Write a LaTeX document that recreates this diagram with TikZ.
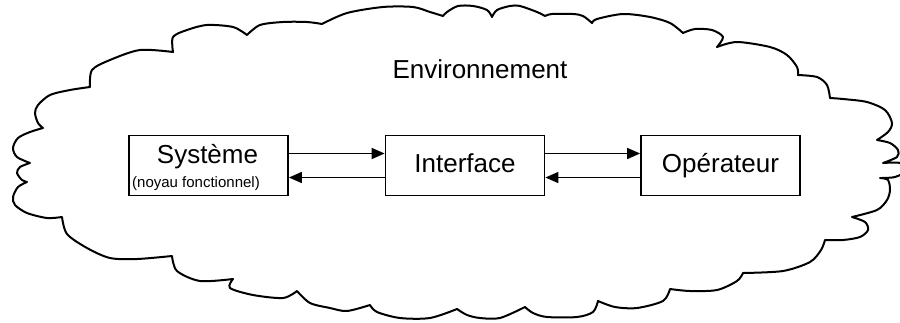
\documentclass[tikz,border=0pt]{standalone}
\usepackage{fontspec}
\setmainfont{Liberation Sans}
\usetikzlibrary{arrows.meta}
\begin{document}
\begin{tikzpicture}[x=1pt,y=-1pt,
  cloudline/.style={line width=2pt, line join=round, line cap=round},
  box/.style={draw, line width=1.8pt, minimum width=159pt, minimum height=60pt, inner sep=0pt,
    text height=19pt, text depth=5pt, font=\fontsize{26}{30}\selectfont},
  flow/.style={line width=1.7pt, -{Triangle[length=13pt,width=11pt]}},
  big/.style={font=\fontsize{26}{30}\selectfont},
  small/.style={font=\fontsize{15}{18}\selectfont},
]
\useasboundingbox (0,0) rectangle (900,322);
\begin{scope}
\clip (0,0) rectangle (900,322);
\draw[cloudline]
  plot[smooth] coordinates {(62,217) (47,218) (27,213) (15,205) (13,197) (18,187) (27,182)}
  -- plot[smooth] coordinates {(27,182) (22,180) (17,173) (20,167) (30,163)}
  -- plot[smooth] coordinates {(30,163) (17,157) (13,148) (18,138) (30,132) (43,128)}
  -- plot[smooth] coordinates {(43,128) (38,123) (35,113) (38,105) (50,95) (70,90) (90,87)}
  -- plot[smooth] coordinates {(90,87) (92,70) (110,60) (140,50) (173,52)}
  -- plot[smooth] coordinates {(173,52) (173,37) (187,30) (207,25) (233,27) (247,35)}
  -- plot[smooth] coordinates {(247,35) (260,25) (283,22) (307,22) (322,24)}
  -- plot[smooth] coordinates {(322,24) (347,13) (383,7) (413,7) (430,12) (443,16)}
  -- plot[smooth] coordinates {(443,16) (447,12) (458,6) (473,6) (487,10) (492,17)}
  -- plot[smooth] coordinates {(492,17) (497,10) (510,6) (520,6) (537,12) (545,16)}
  -- plot[smooth] coordinates {(545,16) (552,14) (573,14) (583,16) (592,23)}
  -- plot[smooth] coordinates {(592,23) (597,19) (623,14) (650,17) (670,23) (683,33)}
  -- plot[smooth] coordinates {(683,33) (695,29) (712,30) (723,37) (717,47)}
  -- plot[smooth] coordinates {(717,47) (737,42) (770,47) (787,55) (797,67) (798,75)}
  -- plot[smooth] coordinates {(798,75) (817,77) (827,85) (830,98)}
  -- plot[smooth] coordinates {(830,98) (843,99) (867,102) (885,110) (892,123) (888,132) (877,140)}
  -- plot[smooth] coordinates {(877,140) (890,143) (898,150) (897,157) (883,163)}
  -- plot[smooth] coordinates {(883,163) (900,163) (908,170) (895,177) (880,178)}
  -- plot[smooth] coordinates {(880,178) (888,180) (890,190) (887,200) (877,210) (852,217)}
  -- plot[smooth] coordinates {(852,217) (865,222) (868,230) (860,237) (843,240) (825,240)}
  -- plot[smooth] coordinates {(825,240) (821,250) (810,262) (783,271) (743,273)}
  -- plot[smooth] coordinates {(743,273) (737,281) (717,290) (690,291) (670,289)}
  -- plot[smooth] coordinates {(670,289) (663,301) (637,308) (615,307) (598,301)}
  -- plot[smooth] coordinates {(598,301) (593,312) (577,317) (547,317) (533,313) (525,307)}
  -- plot[smooth] coordinates {(525,307) (500,318) (480,318) (467,315) (457,309)}
  -- plot[smooth] coordinates {(457,309) (430,318) (400,318) (377,312) (370,305)}
  -- plot[smooth] coordinates {(370,305) (347,311) (330,308) (310,303) (297,291)}
  -- plot[smooth] coordinates {(297,291) (283,298) (253,295) (230,288) (233,279)}
  -- plot[smooth] coordinates {(233,279) (200,281) (177,271) (172,256)}
  -- plot[smooth] coordinates {(172,256) (137,259) (110,258) (87,248) (67,234) (62,217)};
\end{scope}

\node[big, anchor=base] (env) at (480,78) {Environnement};

\node[box] (sys) at (208.5,165.5) {};
\node[big, anchor=base] (systxt) at (207.5,163) {Système};
\node[small, anchor=base] (noyau) at (196,187) {(noyau fonctionnel)};
\node[box] (int) at (465,165.5) {Interface};
\node[box] (op) at (720.5,165.5) {Opérateur};

\draw[flow] ([yshift=12pt]sys.east) -- ([yshift=12pt]int.west);
\draw[flow] ([yshift=-12pt]int.west) -- ([yshift=-12pt]sys.east);
\draw[flow] ([yshift=12pt]int.east) -- ([yshift=12pt]op.west);
\draw[flow] ([yshift=-12pt]op.west) -- ([yshift=-12pt]int.east);
\end{tikzpicture}
\end{document}
